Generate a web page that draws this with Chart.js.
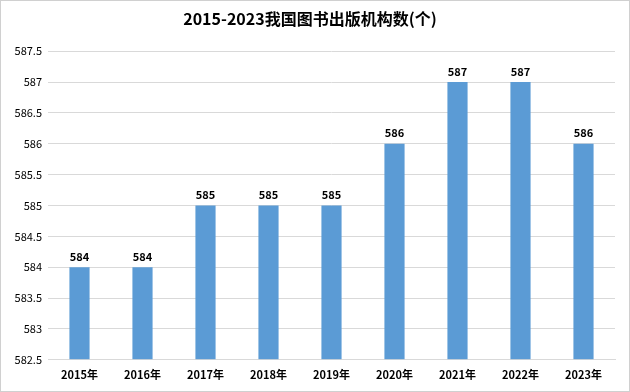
<!DOCTYPE html>
<html>
<head>
<meta charset="utf-8">
<script src="https://cdn.jsdelivr.net/npm/chart.js@4"></script>
<style>
    html, body { margin: 0; padding: 0; background: #fff; }
    #wrap { width: 630px; height: 392px; box-sizing: border-box; border: 1px solid #d0d0d0; position: relative; }
    canvas { display: block; }
</style>
</head>
<body>
<div id="wrap"><canvas id="chart" width="628" height="390"></canvas></div>
<script>
const years = ['2015年', '2016年', '2017年', '2018年', '2019年', '2020年', '2021年', '2022年', '2023年'];
const counts = [584, 584, 585, 585, 585, 586, 587, 587, 586];
const yTicks = [582.5, 583, 583.5, 584, 584.5, 585, 585.5, 586, 586.5, 587, 587.5];

const fontFamily = '"Noto Sans CJK SC", "Noto Sans", sans-serif';

// draw the value above each bar
const barLabels = {
    id: 'barLabels',
    afterDatasetsDraw(chart) {
        const ctx = chart.ctx;
        const meta = chart.getDatasetMeta(0);
        ctx.save();
        ctx.font = 'bold 11px ' + fontFamily;
        ctx.fillStyle = '#000';
        ctx.textAlign = 'center';
        ctx.textBaseline = 'bottom';
        meta.data.forEach((bar, i) => {
            ctx.fillText(String(counts[i]), bar.x, bar.y - 5);
        });
        ctx.restore();
    }
};

new Chart(document.getElementById('chart').getContext('2d'), {
    type: 'bar',
    data: {
        labels: years,
        datasets: [{
            data: counts,
            backgroundColor: '#5b9bd5',
            barPercentage: 0.32,
            categoryPercentage: 1.0,
            base: 582.5
        }]
    },
    options: {
        responsive: false,
        animation: false,
        layout: { padding: { left: 4, right: 14, top: 0, bottom: 2 } },
        plugins: {
            legend: { display: false },
            tooltip: { enabled: false },
            title: {
                display: true,
                text: '2015-2023我国图书出版机构数(个)',
                color: '#000',
                font: { family: fontFamily, size: 16, weight: 'bold' },
                padding: { top: 8, bottom: 23 }
            }
        },
        scales: {
            x: {
                grid: { display: false, drawTicks: false },
                border: { color: '#d9d9d9' },
                ticks: {
                    color: '#000',
                    padding: 8,
                    font: { family: fontFamily, size: 11, weight: 'bold' }
                }
            },
            y: {
                min: 582.5,
                max: 587.5,
                afterBuildTicks(scale) {
                    scale.ticks = yTicks.map(v => ({ value: v }));
                },
                afterFit(scale) { scale.width = 43; },
                grid: { color: '#d9d9d9', drawTicks: false },
                border: { display: false },
                ticks: {
                    color: '#000',
                    padding: 6,
                    font: { family: fontFamily, size: 11 },
                    callback: v => String(v)
                }
            }
        }
    },
    plugins: [barLabels]
});
</script>
</body>
</html>
